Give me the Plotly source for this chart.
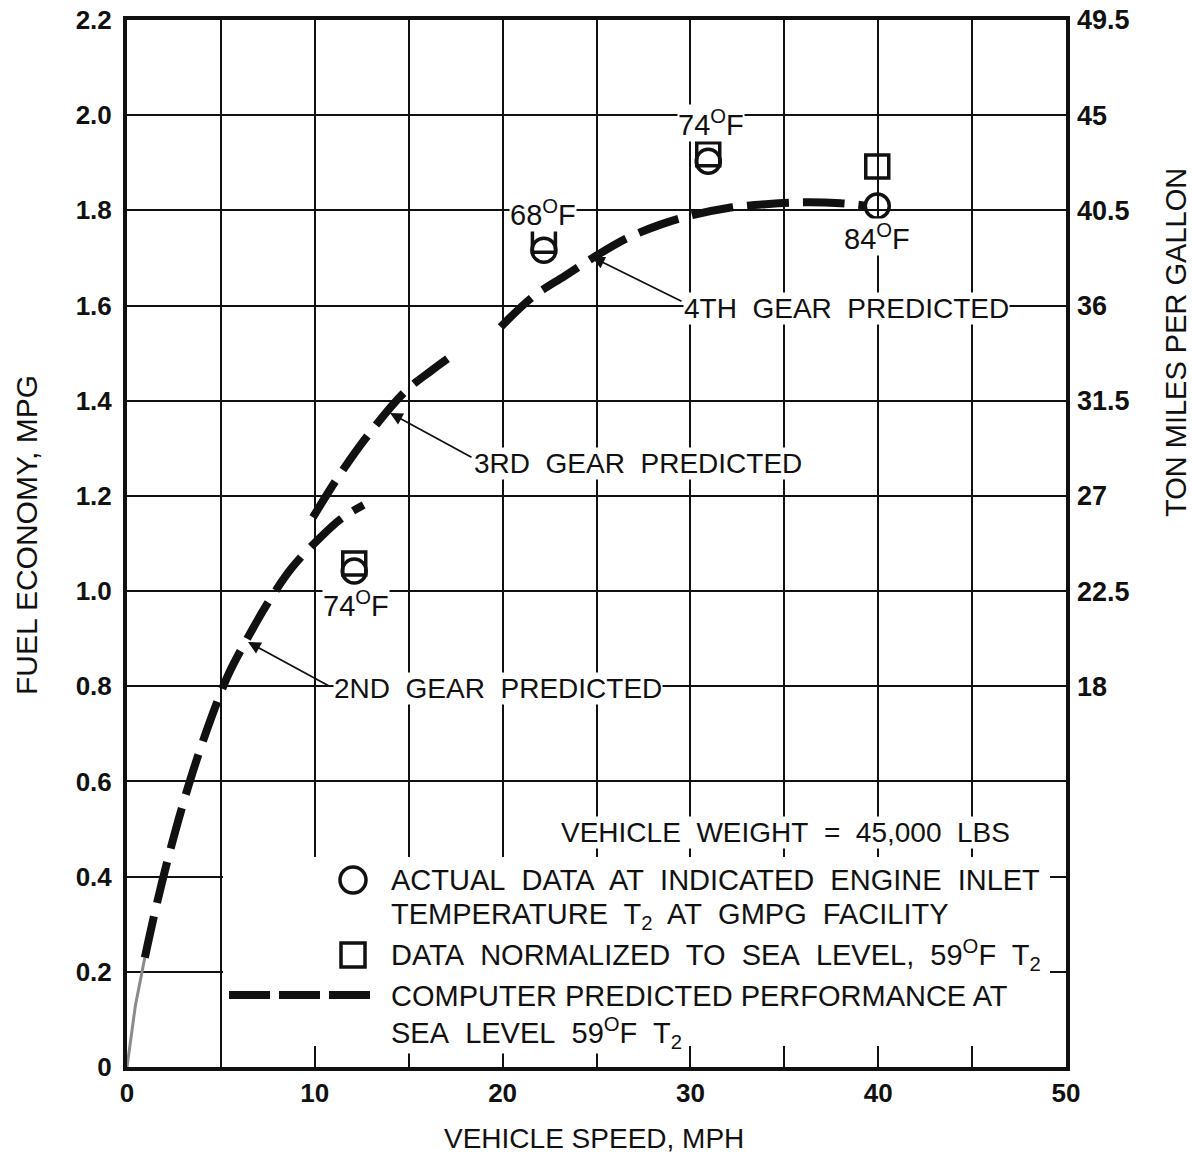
import plotly.graph_objects as go

# ---------------- data ----------------
gear1_x = [0.0, 0.45, 0.95]
gear1_y = [0.0, 0.13, 0.23]

gear2_x = [0.95, 1.6, 2.5, 3.5, 4.5, 5.4, 6.4, 7.5, 8.8, 10.3, 11.5, 12.6]
gear2_y = [0.23, 0.345, 0.485, 0.62, 0.735, 0.825, 0.90, 0.975, 1.05, 1.113, 1.155, 1.181]

gear3_x = [9.9, 11.3, 12.8, 14.8, 16.2, 17.6]
gear3_y = [1.155, 1.243, 1.326, 1.419, 1.463, 1.503]

gear4_x = [19.9, 21.6, 23.3, 24.8, 26.6, 28.4, 30.1, 32.0, 34.0, 36.0, 38.0, 39.3]
gear4_y = [1.555, 1.618, 1.662, 1.700, 1.741, 1.770, 1.790, 1.805, 1.813, 1.817, 1.815, 1.810]

actual_x = [12.1, 22.2, 30.95, 39.95]
actual_y = [1.042, 1.716, 1.903, 1.809]
norm_x = [12.1, 22.2, 30.95, 39.95]
norm_y = [1.058, 1.736, 1.918, 1.892]
temp_labels = ["74<sup>O</sup>F", "68<sup>O</sup>F", "74<sup>O</sup>F", "84<sup>O</sup>F"]

x_ticks = [0, 10, 20, 30, 40, 50]
y_ticks = [0, 0.2, 0.4, 0.6, 0.8, 1.0, 1.2, 1.4, 1.6, 1.8, 2.0, 2.2]
y_ticktext = ["0", "0.2", "0.4", "0.6", "0.8", "1.0", "1.2", "1.4", "1.6", "1.8", "2.0", "2.2"]
y2_ticks = [18, 22.5, 27, 31.5, 36, 40.5, 45, 49.5]
y2_ticktext = ["18", "22.5", "27", "31.5", "36", "40.5", "45", "49.5"]

# ---------------- layout helpers ----------------
W, H = 1192, 1160
L, R, T, B = 127, 1066, 20, 1067
XMAX, YMAX = 50.0, 2.2


def px2x(px):
    return (px - L) / (R - L) * XMAX


def px2y(py):
    return (B - py) / (B - T) * YMAX


FONT = "Liberation Sans, Arial, Helvetica, sans-serif"
BLACK = "#111111"
DASH = "42px,14px"
SP = "&nbsp; "

fig = go.Figure()

fig.add_trace(go.Scatter(x=gear1_x, y=gear1_y, mode="lines",
                         line=dict(color="#8a8a8a", width=3), hoverinfo="skip", showlegend=False))
for gx, gy in [(gear2_x, gear2_y), (gear3_x, gear3_y), (gear4_x, gear4_y)]:
    fig.add_trace(go.Scatter(x=gx, y=gy, mode="lines", line_shape="spline",
                             line=dict(color=BLACK, width=8, dash=DASH),
                             hoverinfo="skip", showlegend=False))

fig.add_trace(go.Scatter(x=norm_x, y=norm_y, mode="markers",
                         marker=dict(symbol="square-open", size=23, color=BLACK,
                                     line=dict(width=3.5, color=BLACK)), showlegend=False))
fig.add_trace(go.Scatter(x=actual_x, y=actual_y, mode="markers",
                         marker=dict(symbol="circle-open", size=24, color=BLACK,
                                     line=dict(width=3.5, color=BLACK)), showlegend=False))

# dummy trace for right axis
fig.add_trace(go.Scatter(x=[0], y=[0], yaxis="y2", mode="markers",
                         marker=dict(opacity=0), hoverinfo="skip", showlegend=False))

ann = []
# temperature labels (centre positions in pixels)
label_px = [(356, 604), (543, 213), (711, 123), (877, 237)]
for txt, (lx, ly) in zip(temp_labels, label_px):
    ann.append(dict(x=px2x(lx), y=px2y(ly), xref="x", yref="y", text=txt, showarrow=False,
                    font=dict(family=FONT, size=29, color=BLACK), bgcolor="white",
                    borderpad=0, xanchor="center", yanchor="middle"))

# gear labels with arrows
gear_labels = [("4TH" + SP + "GEAR" + SP + "PREDICTED", (683, 308), (683, 302), (592, 257)),
               ("3RD" + SP + "GEAR" + SP + "PREDICTED", (473, 463), (473, 458), (390, 413)),
               ("2ND" + SP + "GEAR" + SP + "PREDICTED", (333, 688), (331, 687), (248, 642))]
for txt, (tx, ty), (ax_, ay_), (hx, hy) in gear_labels:
    ann.append(dict(x=px2x(tx), y=px2y(ty), xref="x", yref="y", text=txt, showarrow=False,
                    font=dict(family=FONT, size=28, color=BLACK), bgcolor="white",
                    borderpad=0, xanchor="left", yanchor="middle"))
    ann.append(dict(x=px2x(hx), y=px2y(hy), ax=px2x(ax_), ay=px2y(ay_), xref="x", yref="y",
                    axref="x", ayref="y", text="", showarrow=True, arrowhead=2,
                    arrowsize=1.4, arrowwidth=1.8, arrowcolor=BLACK, standoff=0))

# legend block texts
leg_texts = [("VEHICLE" + SP + "WEIGHT" + SP + "=" + SP + "45,000" + SP + "LBS", 560, 832, 28),
             ("ACTUAL" + SP + "DATA" + SP + "AT" + SP + "INDICATED" + SP + "ENGINE" + SP + "INLET", 390, 880, 29),
             ("TEMPERATURE" + SP + "T<sub>2</sub>" + SP + "AT" + SP + "GMPG" + SP + "FACILITY", 390, 916, 29),
             ("DATA" + SP + "NORMALIZED" + SP + "TO" + SP + "SEA" + SP + "LEVEL," + SP + "59<sup>O</sup>F" + SP + "T<sub>2</sub>", 390, 955, 29),
             ("COMPUTER PREDICTED PERFORMANCE AT", 390, 996, 29),
             ("SEA" + SP + "LEVEL" + SP + "59<sup>O</sup>F" + SP + "T<sub>2</sub>", 390, 1033, 29)]
for txt, tx, ty, fs in leg_texts:
    ann.append(dict(x=px2x(tx), y=px2y(ty), xref="x", yref="y", text=txt, showarrow=False,
                    font=dict(family=FONT, size=fs, color=BLACK), bgcolor="white",
                    borderpad=0, xanchor="left", yanchor="middle"))

# axis titles
ann.append(dict(x=(594 - L) / (R - L), y=(B - 1138) / (B - T), xref="paper", yref="paper",
                text="VEHICLE SPEED, MPH", showarrow=False,
                font=dict(family=FONT, size=28, color=BLACK), xanchor="center", yanchor="middle"))
ann.append(dict(x=(26 - L) / (R - L), y=(B - 535) / (B - T), xref="paper", yref="paper",
                text="FUEL ECONOMY, MPG", showarrow=False, textangle=-90,
                font=dict(family=FONT, size=30, color=BLACK), xanchor="center", yanchor="middle"))
ann.append(dict(x=(1176 - L) / (R - L), y=(B - 343) / (B - T), xref="paper", yref="paper",
                text="TON MILES PER GALLON", showarrow=False, textangle=-90,
                font=dict(family=FONT, size=29, color=BLACK), xanchor="center", yanchor="middle"))

shapes = []
# white mask behind legend block (covers grid only)
shapes.append(dict(type="rect", xref="x", yref="y", x0=px2x(223), x1=px2x(1050),
                   y0=px2y(1046), y1=px2y(857), fillcolor="white", line=dict(width=0),
                   layer="between"))
# legend keys
r = 13
shapes.append(dict(type="circle", xref="x", yref="y", x0=px2x(353 - r), x1=px2x(353 + r),
                   y0=px2y(880 + r), y1=px2y(880 - r), line=dict(color=BLACK, width=3.5)))
shapes.append(dict(type="rect", xref="x", yref="y", x0=px2x(353 - 12), x1=px2x(353 + 12),
                   y0=px2y(955 + 12), y1=px2y(955 - 12), line=dict(color=BLACK, width=3.5)))
shapes.append(dict(type="line", xref="x", yref="y", x0=px2x(229), x1=px2x(370),
                   y0=px2y(995), y1=px2y(995), line=dict(color=BLACK, width=8, dash="41px,9px")))

fig.update_layout(
    width=W, height=H,
    margin=dict(l=L, r=W - R, t=T, b=H - B, pad=0, autoexpand=False),
    paper_bgcolor="white", plot_bgcolor="white",
    font=dict(family=FONT, color=BLACK),
    showlegend=False,
    annotations=ann, shapes=shapes,
    xaxis=dict(range=[0, XMAX], tickvals=x_ticks, ticktext=[str(v) for v in x_ticks],
               showgrid=True, gridcolor=BLACK, gridwidth=2, automargin=False,
               minor=dict(dtick=5, showgrid=True, gridcolor=BLACK, gridwidth=2),
               showline=True, linecolor=BLACK, linewidth=4, mirror=True,
               zeroline=False, ticks="", tickfont=dict(family=FONT, size=26, color=BLACK, weight="bold")),
    yaxis=dict(range=[0, YMAX], tickvals=y_ticks, ticktext=y_ticktext,
               showgrid=True, gridcolor=BLACK, gridwidth=2, automargin=False,
               showline=True, linecolor=BLACK, linewidth=4, mirror=True,
               zeroline=False, ticks="", ticklabelstandoff=6,
               tickfont=dict(family=FONT, size=26, color=BLACK, weight="bold")),
    yaxis2=dict(range=[0, YMAX * 22.5], overlaying="y", side="right", automargin=False,
                tickvals=y2_ticks, ticktext=y2_ticktext, showgrid=False, zeroline=False,
                showline=False, ticks="", ticklabelstandoff=10,
                tickfont=dict(family=FONT, size=27, color=BLACK, weight="bold")),
)

fig.write_html("out.html")
